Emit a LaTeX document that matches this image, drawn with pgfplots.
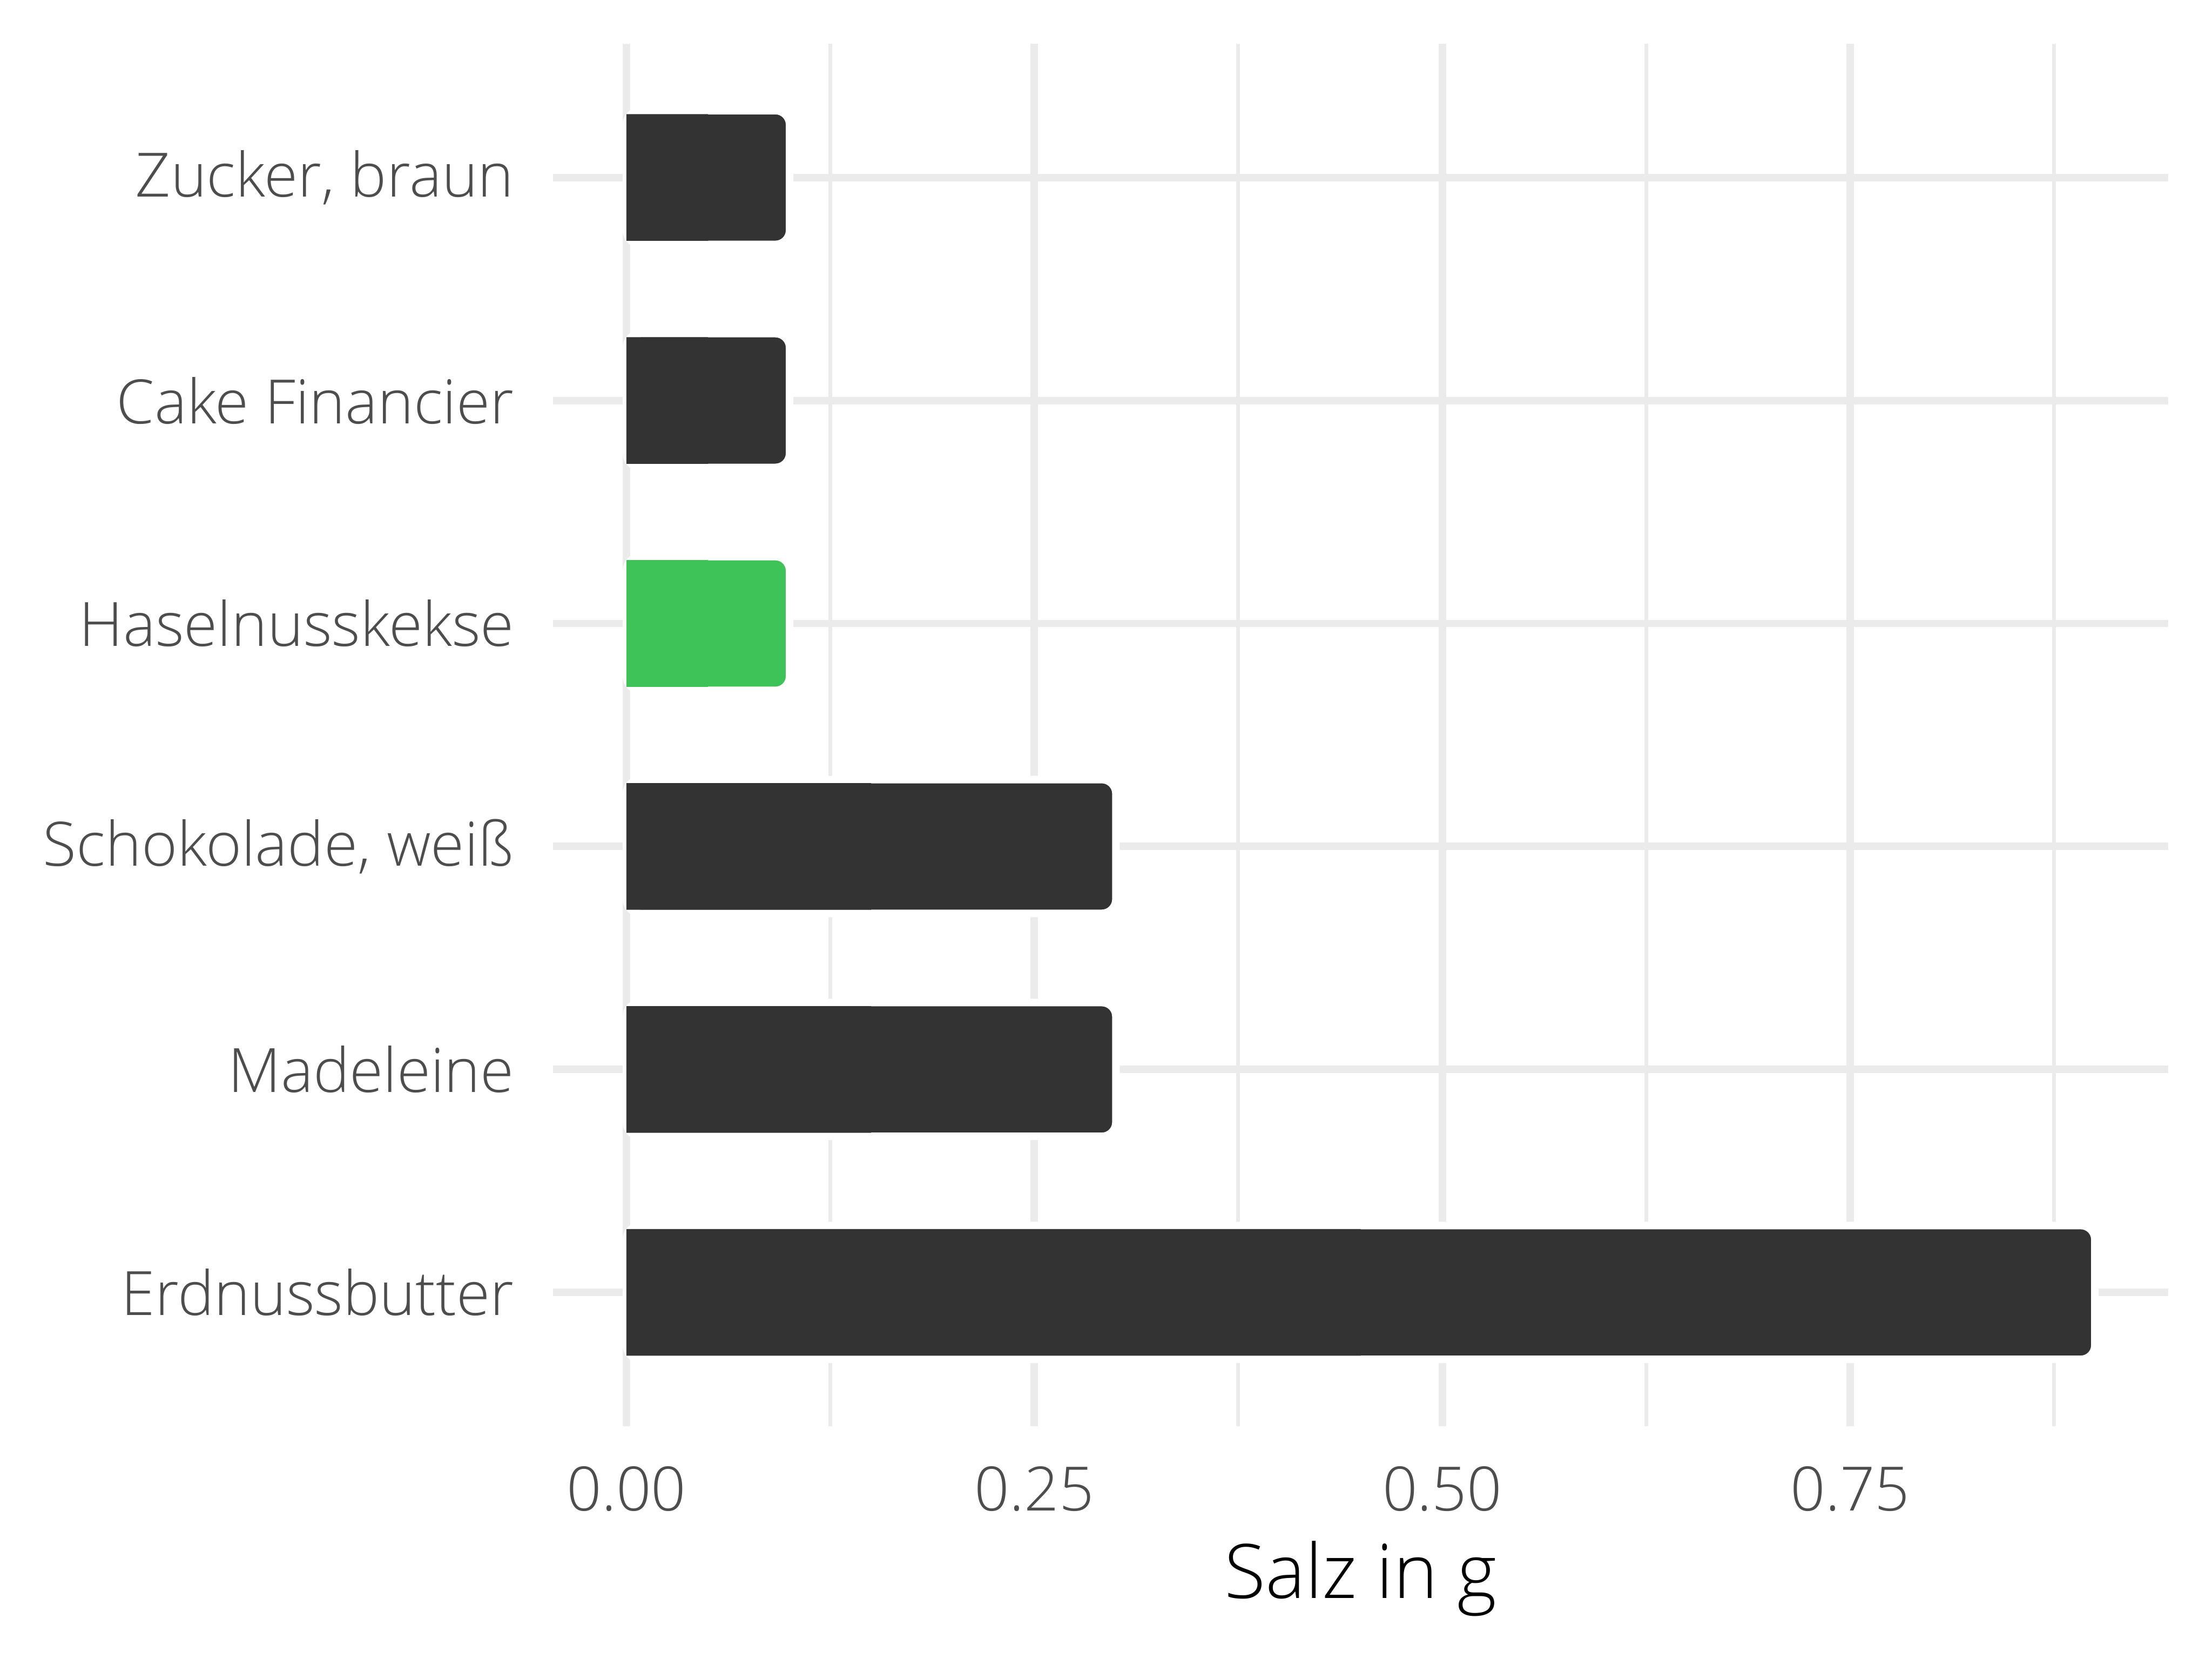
\documentclass[border=0pt]{standalone}
\usepackage{pgfplots}
\pgfplotsset{compat=1.18}
\usepackage{fontspec}
\setmainfont{Open Sans}[UprightFont={* Light}]

\definecolor{barcol}{HTML}{333333}
\definecolor{hilite}{RGB}{62,195,88}
\definecolor{gridcol}{HTML}{EBEBEB}
\definecolor{labcol}{HTML}{4D4D4D}

\begin{document}
\begin{tikzpicture}
\path[use as bounding box] (0,0) rectangle (470.4pt,352.8pt);
\begin{axis}[
    at={(117.6pt,49.5pt)}, anchor=south west,
    scale only axis,
    width=343.5pt, height=294pt,
    xmin=-0.045, xmax=0.945,
    ymin=-0.6, ymax=5.6,
    xbar, bar shift=0pt,
    xtick={0,0.25,0.5,0.75},
    minor xtick={0.125,0.375,0.625,0.875},
    ytick={0,1,2,3,4,5},
    yticklabels={Erdnussbutter, Madeleine, {Schokolade, weiß}, Haselnusskekse, {Cake Financier}, {Zucker, braun}},
    xticklabel={\pgfmathprintnumber[fixed,fixed zerofill,precision=2]{\tick}},
    /pgf/number format/assume math mode=true,
    xmajorgrids, xminorgrids, ymajorgrids,
    major grid style={draw=gridcol, line width=1.6pt},
    minor grid style={draw=gridcol, line width=0.8pt},
    axis line style={draw=none},
    tick style={draw=none},
    ticklabel style={font=\fontsize{13}{15}\selectfont, text=labcol},
    yticklabel style={xshift=-0.5pt},
    xticklabel style={yshift=-5pt},
    xlabel={Salz in g},
    xlabel style={font=\fontsize{16}{19}\selectfont, text=black, yshift=0.5pt},
]

% rounded bars
\addplot[fill=barcol, draw=white, line width=1.6pt, rounded corners=3pt, bar width=0.6] coordinates {
    (0.9,0) (0.3,1) (0.3,2) (0.1,4) (0.1,5)
};
\addplot[fill=hilite, draw=white, line width=1.6pt, rounded corners=3pt, bar width=0.6] coordinates {
    (0.1,3)
};
% square left halves
\addplot[fill=barcol, draw=none, bar width=0.568] coordinates {
    (0.45,0) (0.15,1) (0.15,2) (0.05,4) (0.05,5)
};
\addplot[fill=hilite, draw=none, bar width=0.568] coordinates {
    (0.05,3)
};

\end{axis}
\end{tikzpicture}
\end{document}
